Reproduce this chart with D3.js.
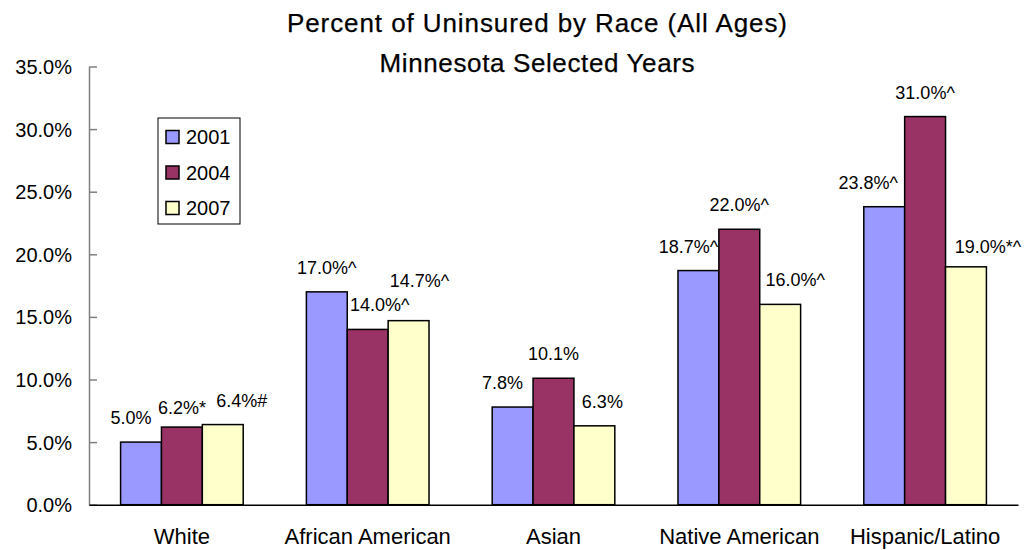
<!DOCTYPE html>
<html>
<head>
<meta charset="utf-8">
<title>Percent of Uninsured by Race</title>
<script src="https://cdn.jsdelivr.net/npm/d3@7/dist/d3.min.js"></script>
<style>
  body { margin: 0; background: #fff; }
  svg text { font-family: "Liberation Sans", Arial, sans-serif; fill: #000; }
</style>
</head>
<body>
<svg id="chart" width="1026" height="550"></svg>
<script>
// data
const categories = ["White", "African American", "Asian", "Native American", "Hispanic/Latino"];
const years = ["2001", "2004", "2007"];
const values2001 = [5.0, 17.0, 7.8, 18.7, 23.8];
const values2004 = [6.2, 14.0, 10.1, 22.0, 31.0];
const values2007 = [6.4, 14.7, 6.3, 16.0, 19.0];
const marks2001 = ["", "^", "", "^", "^"];
const marks2004 = ["*", "^", "", "^", "^"];
const marks2007 = ["#", "^", "", "^", "*^"];
const yTicks = [0, 5, 10, 15, 20, 25, 30, 35];

const colors = ["#9999FF", "#993366", "#FFFFCC"];
const series = [values2001, values2004, values2007];
const marks = [marks2001, marks2004, marks2007];

// hand-moved labels in the original: [dx, dy]
const labelShift = [-10, 0, 12];
const labelNudge = {
  "White|2004": [0, 5], "White|2007": [7, 0],
  "African American|2001": [10, 0], "African American|2004": [12, 0], "African American|2007": [-1, -16],
  "Asian|2007": [-4, 0], "Native American|2007": [3, 0],
  "Hispanic/Latino|2001": [-6, 0], "Hispanic/Latino|2007": [10, 4]
};

const svg = d3.select("#chart");
const plotLeft = 89, plotRight = 1018, plotTop = 66.5, plotBottom = 504.7;

const x = d3.scaleBand().domain(categories).range([plotLeft, plotRight])
    .paddingInner(0.34).paddingOuter(0.17);
const xs = d3.scaleBand().domain(years).range([0, x.bandwidth()]);
const y = d3.scaleLinear().domain([0, 35]).range([plotBottom, plotTop]);

// title
const title = svg.append("g").attr("font-size", 26).attr("text-anchor", "middle")
    .style("stroke", "#000").style("stroke-width", 0.25);
title.append("text").attr("x", 537).attr("y", 32)
    .attr("textLength", 500).attr("lengthAdjust", "spacing")
    .text("Percent of Uninsured by Race (All Ages)");
title.append("text").attr("x", 537).attr("y", 72)
    .attr("textLength", 315).attr("lengthAdjust", "spacing")
    .text("Minnesota Selected Years");

// y axis
const yAxis = svg.append("g").attr("transform", `translate(${plotLeft},0)`)
    .call(d3.axisLeft(y).tickValues(yTicks).tickSizeInner(-8).tickSizeOuter(0)
        .tickPadding(17).tickFormat(d => d.toFixed(1) + "%"));
yAxis.select(".domain").attr("stroke", "#808080").attr("stroke-width", 1.5);
yAxis.selectAll(".tick line").attr("stroke", "#808080").attr("stroke-width", 1.5);
yAxis.selectAll("text").attr("font-size", 20).attr("dy", "0.35em");

// bars
const groups = svg.append("g").selectAll("g").data(series).join("g")
    .attr("fill", (d, i) => colors[i]);
groups.selectAll("rect").data((d, i) => d.map((v, j) => ({v, j, i}))).join("rect")
    .attr("x", d => x(categories[d.j]) + xs(years[d.i]))
    .attr("y", d => y(d.v))
    .attr("width", xs.bandwidth())
    .attr("height", d => plotBottom - y(d.v))
    .attr("stroke", "#000").attr("stroke-width", 1.5);

// value labels
const nudge = d => labelNudge[categories[d.j] + "|" + years[d.i]] || [0, 0];
svg.append("g").attr("font-size", 18).attr("text-anchor", "middle")
  .selectAll("text")
  .data(series.flatMap((s, i) => s.map((v, j) => ({v, i, j}))))
  .join("text")
    .attr("x", d => x(categories[d.j]) + xs(years[d.i]) + xs.bandwidth() / 2 + labelShift[d.i] + nudge(d)[0])
    .attr("y", d => y(d.v) - 18 + nudge(d)[1])
    .text(d => d.v.toFixed(1) + "%" + marks[d.i][d.j]);

// x axis
const xAxis = svg.append("g").attr("transform", `translate(0,${plotBottom})`)
    .call(d3.axisBottom(x).tickSize(0).tickPadding(24));
xAxis.select(".domain").attr("stroke", "#000").attr("stroke-width", 1.5);
xAxis.selectAll("text").attr("font-size", 22).attr("dy", "0.71em");

// legend
const legend = svg.append("g");
legend.append("rect").attr("x", 158).attr("y", 118).attr("width", 82).attr("height", 106)
    .attr("fill", "#fff").attr("stroke", "#000").attr("stroke-width", 1);
const items = legend.selectAll("g.item").data(years).join("g")
    .attr("transform", (d, i) => `translate(166,${137 + i * 35.5})`);
items.append("rect").attr("x", 0).attr("y", -6.5).attr("width", 13).attr("height", 13)
    .attr("fill", (d, i) => colors[i]).attr("stroke", "#000").attr("stroke-width", 1.5);
items.append("text").attr("x", 20).attr("y", 0).attr("dy", "0.35em")
    .attr("font-size", 20).text(d => d);
</script>
</body>
</html>
